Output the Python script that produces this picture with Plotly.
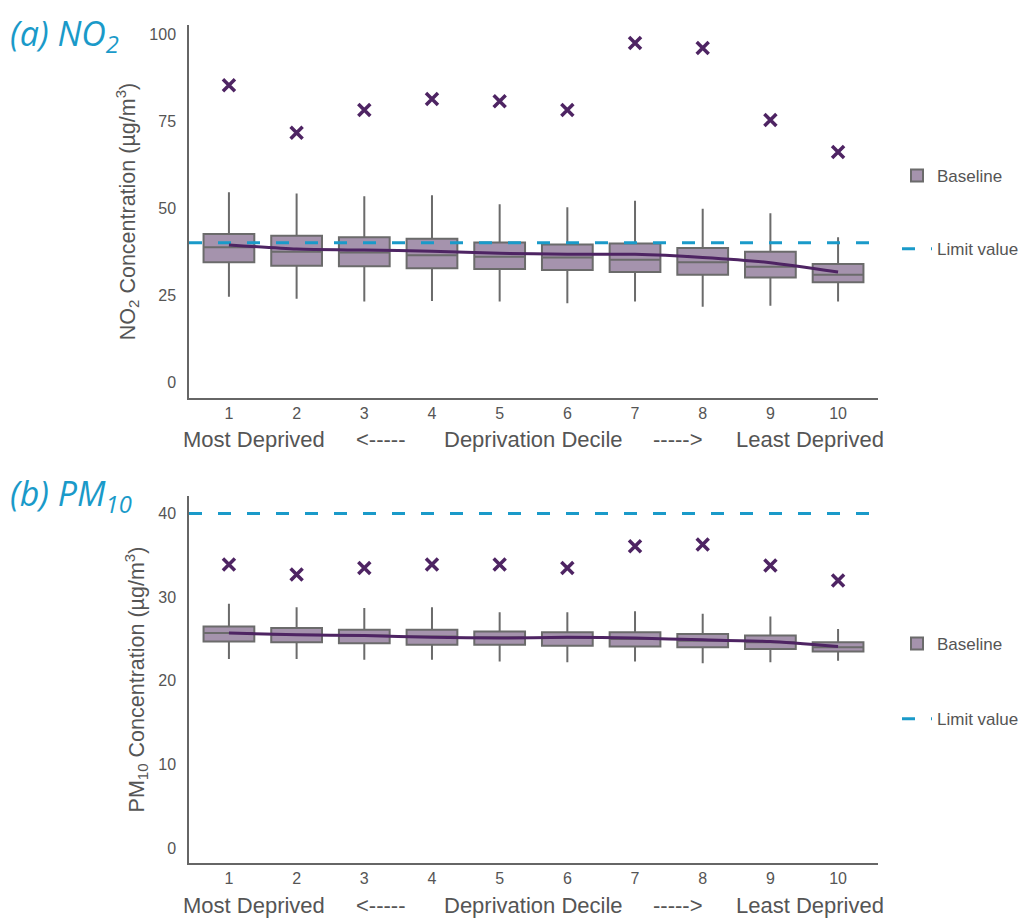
import plotly.graph_objects as go

deciles = [1, 2, 3, 4, 5, 6, 7, 8, 9, 10]

# (a) NO2 box statistics
no2_upper = [54.5, 54.2, 53.4, 53.7, 51.1, 50.2, 52.1, 49.8, 48.5, 41.6]
no2_q3 = [42.5, 42.0, 41.6, 41.2, 40.1, 39.5, 39.8, 38.5, 37.4, 33.9]
no2_median = [38.7, 37.4, 37.2, 36.4, 36.0, 35.8, 35.1, 34.4, 33.1, 30.8]
no2_q1 = [34.4, 33.4, 33.3, 32.7, 32.5, 32.2, 31.6, 30.8, 30.0, 28.7]
no2_lower = [24.5, 23.9, 23.1, 23.3, 23.1, 22.6, 23.1, 21.6, 21.9, 23.1]
no2_mean = [39.4, 38.2, 37.9, 37.6, 37.0, 36.7, 36.7, 35.8, 34.3, 31.6]
no2_max = [85.3, 71.6, 78.2, 81.3, 80.7, 78.2, 97.4, 96.0, 75.3, 66.1]
no2_limit = 40

# (b) PM10 box statistics
pm_upper = [29.2, 28.8, 28.7, 28.8, 28.2, 28.2, 28.3, 28.0, 27.7, 26.2]
pm_q3 = [26.5, 26.3, 26.1, 26.1, 25.9, 25.8, 25.8, 25.6, 25.4, 24.6]
pm_median = [25.7, 25.5, 25.4, 25.3, 25.2, 25.1, 25.0, 24.8, 24.6, 24.0]
pm_q1 = [24.7, 24.6, 24.5, 24.3, 24.3, 24.2, 24.1, 24.0, 23.8, 23.5]
pm_lower = [22.6, 22.6, 22.5, 22.5, 22.3, 22.2, 22.3, 22.1, 22.2, 22.4]
pm_mean = [25.7, 25.5, 25.4, 25.2, 25.1, 25.2, 25.1, 24.9, 24.7, 24.1]
pm_max = [33.9, 32.7, 33.5, 33.9, 33.9, 33.5, 36.1, 36.3, 33.8, 32.0]
pm_limit = 40

x_range = [0.41, 10.59]
no2_ticks = [0, 25, 50, 75, 100]
pm_ticks = [0, 10, 20, 30, 40]

BOX_FILL = "#a593ad"
BOX_LINE = "#6b6b6b"
MEAN_COL = "#4e2463"
LIMIT_COL = "#1a9ac9"
AXIS_COL = "#666666"
TEXT_COL = "#555555"
FONT = "Liberation Sans, Arial, sans-serif"

# page body has an 8px margin; lay out in reference-pixel coordinates
OFF = 8
W, H = 1018, 912
def px_x(p):
    return (p - OFF) / W
def px_y(p):
    return 1 - (p - OFF) / H

fig = go.Figure()

def add_panel(xa, ya, legend, upper, q3, med, q1, lower, mean, mx, limit):
    fig.add_trace(go.Box(
        x=deciles, q1=q1, median=med, q3=q3, lowerfence=lower, upperfence=upper,
        xaxis=xa, yaxis=ya, name="Baseline", fillcolor=BOX_FILL,
        line=dict(color=BOX_LINE, width=2), whiskerwidth=0, width=0.75,
        boxpoints=False, legend=legend, legendgroup="b" + legend, showlegend=True,
        hoverinfo="skip"))
    fig.add_trace(go.Scatter(
        x=x_range, y=[limit, limit], xaxis=xa, yaxis=ya, mode="lines",
        line=dict(color=LIMIT_COL, width=3, dash="13px,16px"),
        name="Limit value", legend=legend, legendgroup="l" + legend, showlegend=True))
    fig.add_trace(go.Scatter(
        x=deciles, y=mean, xaxis=xa, yaxis=ya, mode="lines",
        line=dict(color=MEAN_COL, width=3, shape="spline", smoothing=0.6),
        showlegend=False))
    fig.add_trace(go.Scatter(
        x=deciles, y=mx, xaxis=xa, yaxis=ya, mode="markers",
        marker=dict(symbol="x-thin", size=12, line=dict(color=MEAN_COL, width=3.5)),
        showlegend=False))

add_panel("x", "y", "legend", no2_upper, no2_q3, no2_median, no2_q1, no2_lower,
          no2_mean, no2_max, no2_limit)
add_panel("x2", "y2", "legend2", pm_upper, pm_q3, pm_median, pm_q1, pm_lower,
          pm_mean, pm_max, pm_limit)

xdom = [px_x(189), px_x(878)]
axis_common = dict(showgrid=False, zeroline=False, showline=True, linecolor=AXIS_COL,
                   linewidth=1.5, ticks="", tickfont=dict(size=16, color=TEXT_COL, family=FONT))

fig.update_layout(
    width=W, height=H, margin=dict(l=0, r=0, t=0, b=0),
    paper_bgcolor="white", plot_bgcolor="white",
    font=dict(family=FONT, color=TEXT_COL),
    xaxis=dict(domain=xdom, anchor="y", range=x_range, tickvals=deciles,
               ticklabelstandoff=0, **axis_common),
    yaxis=dict(domain=[px_y(398), px_y(25)], anchor="x", range=[-4.6, 102.6],
               tickvals=no2_ticks, ticklabelstandoff=8,
               title=dict(text="NO<sub>2</sub> Concentration (µg/m<sup>3</sup>)",
                          font=dict(size=21.5, color=TEXT_COL), standoff=8),
               **axis_common),
    xaxis2=dict(domain=xdom, anchor="y2", range=x_range, tickvals=deciles,
                ticklabelstandoff=0, **axis_common),
    yaxis2=dict(domain=[px_y(863), px_y(496)], anchor="x2", range=[-1.8, 42.1],
                tickvals=pm_ticks, ticklabelstandoff=8,
                title=dict(text="PM<sub>10</sub> Concentration (µg/m<sup>3</sup>)",
                           font=dict(size=21.5, color=TEXT_COL), standoff=8),
                **axis_common),
    legend=dict(x=px_x(897), y=px_y(158), xanchor="left", yanchor="top",
                traceorder="grouped", tracegroupgap=48,
                font=dict(size=17, color=TEXT_COL), bgcolor="rgba(0,0,0,0)"),
    legend2=dict(x=px_x(897), y=px_y(626), xanchor="left", yanchor="top",
                 traceorder="grouped", tracegroupgap=50,
                 font=dict(size=17, color=TEXT_COL), bgcolor="rgba(0,0,0,0)"),
    showlegend=True,
)

# Panel titles
fig.add_annotation(text="<i>(a) NO<sub>2</sub></i>", x=px_x(8), y=1,
                   xref="paper", yref="paper", xanchor="left", yanchor="top",
                   showarrow=False, font=dict(size=34, color=LIMIT_COL, family="Open Sans"))
fig.add_annotation(text="<i>(b) PM<sub>10</sub></i>", x=px_x(8), y=px_y(495),
                   xref="paper", yref="paper", xanchor="left", yanchor="middle",
                   showarrow=False, font=dict(size=34, color=LIMIT_COL, family="Open Sans"))

# X-axis descriptive labels
x_words = [("Most Deprived", 254), ("<-----", 380), ("Deprivation Decile", 533),
           ("----->", 677), ("Least Deprived", 810)]
for ypix in (440, 905):
    for txt, xp in x_words:
        fig.add_annotation(text=txt.replace("<", "&lt;").replace(">", "&gt;"),
                           x=px_x(xp), y=px_y(ypix), xref="paper", yref="paper",
                           xanchor="center", yanchor="middle", showarrow=False,
                           font=dict(size=22, color=TEXT_COL, family=FONT))

fig.write_html("out.html")
